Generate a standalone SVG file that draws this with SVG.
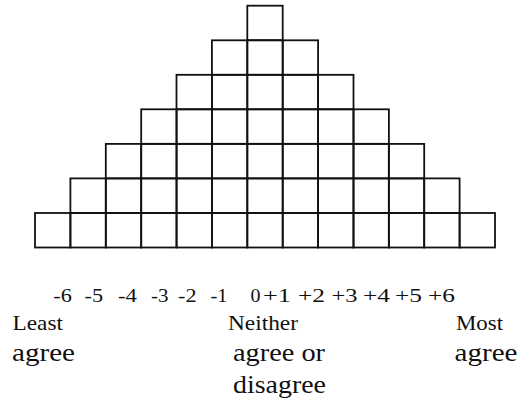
<svg xmlns="http://www.w3.org/2000/svg" width="522" height="411" viewBox="0 0 522 411">
<style>
.c{fill:none;stroke:#111;stroke-width:1.8}
.t{font-family:'Liberation Serif','Times New Roman',serif;fill:#111}
.n{font-size:19px}
.l{font-size:22px}
.a{font-size:26px}
</style>
<defs><rect id="cell" class="c" width="35.4" height="34.5"/></defs>
<rect width="522" height="411" fill="#fff"/>
<g id="col-m6"><use href="#cell" x="35" y="213"/></g>
<g id="col-m5"><use href="#cell" x="70.4" y="213"/><use href="#cell" x="70.4" y="178.4"/></g>
<g id="col-m4"><use href="#cell" x="105.8" y="213"/><use href="#cell" x="105.8" y="178.4"/><use href="#cell" x="105.8" y="143.9"/></g>
<g id="col-m3"><use href="#cell" x="141.2" y="213"/><use href="#cell" x="141.2" y="178.4"/><use href="#cell" x="141.2" y="143.9"/><use href="#cell" x="141.2" y="109.3"/></g>
<g id="col-m2"><use href="#cell" x="176.5" y="213"/><use href="#cell" x="176.5" y="178.4"/><use href="#cell" x="176.5" y="143.9"/><use href="#cell" x="176.5" y="109.3"/><use href="#cell" x="176.5" y="74.8"/></g>
<g id="col-m1"><use href="#cell" x="211.9" y="213"/><use href="#cell" x="211.9" y="178.4"/><use href="#cell" x="211.9" y="143.9"/><use href="#cell" x="211.9" y="109.3"/><use href="#cell" x="211.9" y="74.8"/><use href="#cell" x="211.9" y="40.3"/></g>
<g id="col-0"><use href="#cell" x="247.3" y="213"/><use href="#cell" x="247.3" y="178.4"/><use href="#cell" x="247.3" y="143.9"/><use href="#cell" x="247.3" y="109.3"/><use href="#cell" x="247.3" y="74.8"/><use href="#cell" x="247.3" y="40.3"/><use href="#cell" x="247.3" y="5.7"/></g>
<g id="col-p1"><use href="#cell" x="282.7" y="213"/><use href="#cell" x="282.7" y="178.4"/><use href="#cell" x="282.7" y="143.9"/><use href="#cell" x="282.7" y="109.3"/><use href="#cell" x="282.7" y="74.8"/><use href="#cell" x="282.7" y="40.3"/></g>
<g id="col-p2"><use href="#cell" x="318.1" y="213"/><use href="#cell" x="318.1" y="178.4"/><use href="#cell" x="318.1" y="143.9"/><use href="#cell" x="318.1" y="109.3"/><use href="#cell" x="318.1" y="74.8"/></g>
<g id="col-p3"><use href="#cell" x="353.5" y="213"/><use href="#cell" x="353.5" y="178.4"/><use href="#cell" x="353.5" y="143.9"/><use href="#cell" x="353.5" y="109.3"/></g>
<g id="col-p4"><use href="#cell" x="388.8" y="213"/><use href="#cell" x="388.8" y="178.4"/><use href="#cell" x="388.8" y="143.9"/></g>
<g id="col-p5"><use href="#cell" x="424.2" y="213"/><use href="#cell" x="424.2" y="178.4"/></g>
<g id="col-p6"><use href="#cell" x="459.6" y="213"/></g>
<g id="connectors"/>
<g id="scale" class="t n">
<text x="53.3" y="302" textLength="18.5" lengthAdjust="spacingAndGlyphs">-6</text>
<text x="84.5" y="302" textLength="18.5" lengthAdjust="spacingAndGlyphs">-5</text>
<text x="118" y="302" textLength="19" lengthAdjust="spacingAndGlyphs">-4</text>
<text x="151" y="302" textLength="17.5" lengthAdjust="spacingAndGlyphs">-3</text>
<text x="178" y="302" textLength="18.5" lengthAdjust="spacingAndGlyphs">-2</text>
<text x="210.5" y="302" textLength="17" lengthAdjust="spacingAndGlyphs">-1</text>
<text x="250.5" y="302" textLength="10" lengthAdjust="spacingAndGlyphs">0</text>
<text x="263" y="302" textLength="28" lengthAdjust="spacingAndGlyphs">+1</text>
<text x="298" y="302" textLength="27" lengthAdjust="spacingAndGlyphs">+2</text>
<text x="331.5" y="302" textLength="26" lengthAdjust="spacingAndGlyphs">+3</text>
<text x="363" y="302" textLength="27" lengthAdjust="spacingAndGlyphs">+4</text>
<text x="395" y="302" textLength="27" lengthAdjust="spacingAndGlyphs">+5</text>
<text x="428" y="302" textLength="27" lengthAdjust="spacingAndGlyphs">+6</text>
</g>
<g id="label-least" class="t">
<text class="l" x="12.5" y="330" textLength="50.5" lengthAdjust="spacingAndGlyphs">Least</text>
<text class="a" x="12" y="361" textLength="63" lengthAdjust="spacingAndGlyphs">agree</text>
</g>
<g id="label-neither" class="t">
<text class="l" x="228" y="330" textLength="70" lengthAdjust="spacingAndGlyphs">Neither</text>
<text class="a" x="233" y="361" textLength="92" lengthAdjust="spacingAndGlyphs">agree or</text>
<text class="a" x="233" y="393" textLength="93" lengthAdjust="spacingAndGlyphs">disagree</text>
</g>
<g id="label-most" class="t">
<text class="l" x="456" y="330" textLength="47" lengthAdjust="spacingAndGlyphs">Most</text>
<text class="a" x="454.5" y="361" textLength="63" lengthAdjust="spacingAndGlyphs">agree</text>
</g>
</svg>
